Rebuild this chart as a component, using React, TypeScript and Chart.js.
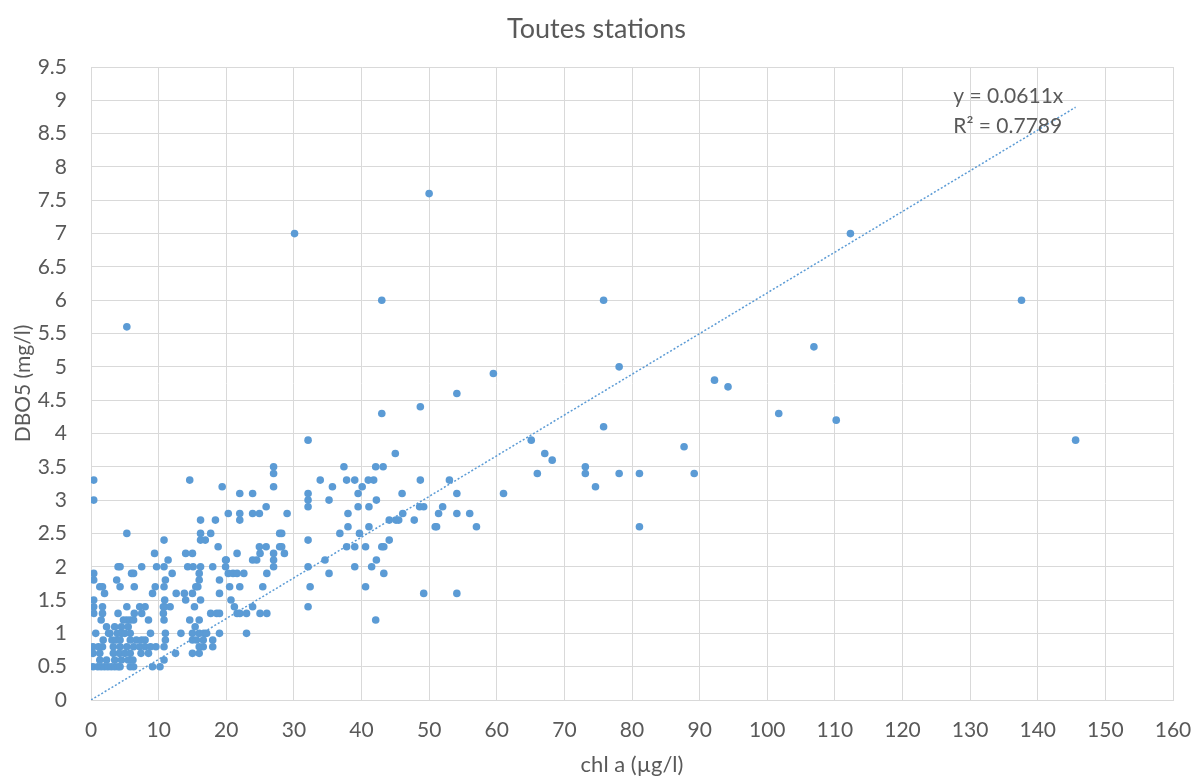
import React, { useEffect, useRef } from "react";
import { Chart, registerables } from "chart.js";

Chart.register(...registerables);

const TITLE = "Toutes stations";
const X_TITLE = "chl a (µg/l)";
const Y_TITLE = "DBO5 (mg/l)";
const EQUATION = "y = 0.0611x";
const R2_TEXT = "R² = 0.7789";
const SLOPE = 0.0611;
const TREND_END_X = 145.6;

const chlA: number[] = [
  0.4, 0.4, 5.3, 14.6, 19.4, 22, 23.9, 27, 27, 27, 25.9, 20.3, 22, 22, 23.9, 24.9, 16.2, 18.4, 16.2, 16.2, 16.9, 17.7, 10.8, 18.8, 24.9, 25.9, 27.9, 27.9,
  9.4, 14, 15, 21.6, 11.4, 20, 24.5, 23.9, 25, 27, 27, 27, 4, 4.3, 7.5, 9.7, 10.8, 14.3, 15.1, 16.2, 18, 19.9, 19.9, 20.3, 21, 21.6, 22.6, 0.4, 0.4,
  6, 6.3, 12, 3.8, 11, 16, 16, 19, 26, 1.3, 1.7, 4.3, 6.4, 9.5, 10.8, 15.5, 15.8, 20.5, 22, 25.4, 2, 9.1, 12.6, 13.8, 15, 19, 10.9, 10.9, 14, 16.2,
  20.7, 0.4, 0.4, 0.4, 1.7, 1.7, 4, 5.3, 7.2, 8, 7.5, 6.4, 10.7, 11.7, 10.7, 15.3, 21.2, 21.6, 22, 23, 23.9, 25, 26, 17.7, 18.6, 19, 1.5, 4.8, 5.3,
  5.8, 6.3, 8.5, 10.8, 14.6, 16, 2.3, 3.5, 4.5, 5.5, 15.4, 0.7, 2.6, 2.8, 3.9, 4.5, 5, 5.8, 6.7, 7.5, 8, 8.8, 11, 13.3, 15, 16, 16.7, 17.1, 19, 23,
  1.8, 3.1, 3.7, 4.3, 5.8, 11, 15, 15.6, 16.6, 18, 0.3, 1.1, 1.7, 3.3, 4.3, 5.3, 6.3, 7.2, 8, 8.8, 9.6, 10.8, 16, 16.6, 18, 0.3, 1.3, 3.3, 4.2, 5,
  5.8, 7.4, 8.5, 10.8, 12.5, 15, 16, 1.3, 2.3, 3.5, 4.5, 5.5, 6.2, 0.3, 1, 1.5, 2, 2.5, 3, 3.5, 4, 4.3, 5.8, 6.3, 9.1, 10.2,
  48.7, 43, 32.1, 45, 37.4, 42.1, 43.2, 33.9, 37.8, 39, 41, 41.8, 48.7, 53, 35.7, 40.1, 39.5, 46, 54.1, 32.1, 32.1, 32.1, 35.2, 42.2, 29, 38, 39.5,
  41.1, 46.1, 48.6, 49.2, 52, 51.4, 54.1, 56, 44.1, 45.1, 45.5, 47.8, 50.9, 51.1, 38, 41.1, 28.2, 36.8, 39.7, 28.2, 32.1, 37.8, 39, 40.6, 43, 43.3,
  44.1, 28.6, 34.6, 32.1, 39, 41.5, 42.2, 35.2, 43.3, 32.4, 40.6, 49.2, 54.1, 32.1, 42.1,
  75.8, 59.5, 78.1, 92.2, 54.1, 75.8, 65.1, 67.1, 68.2, 73.1, 73.1, 66, 78.1, 81.1, 87.7, 89.2, 74.6, 61, 57, 81.1,
  112.3, 137.6, 106.9, 94.2, 101.7, 110.2, 145.6, 50, 30.1, 43, 5.3,
];

const dbo5: number[] = [
  3.3, 3.0, 2.5, 3.3, 3.2, 3.1, 3.1, 3.5, 3.4, 3.2, 2.9, 2.8, 2.8, 2.7, 2.8, 2.8, 2.7, 2.7, 2.5, 2.4, 2.4, 2.5, 2.4, 2.3, 2.3, 2.3, 2.5, 2.3,
  2.2, 2.2, 2.2, 2.2, 2.1, 2.1, 2.1, 2.1, 2.2, 2.2, 2.1, 2.0, 2.0, 2.0, 2.0, 2.0, 2.0, 2.0, 2.0, 2.0, 2.0, 2.1, 2.0, 1.9, 1.9, 1.9, 1.9, 1.9, 1.8,
  1.9, 1.9, 1.9, 1.8, 1.8, 1.9, 1.8, 1.8, 1.9, 1.7, 1.7, 1.7, 1.7, 1.7, 1.7, 1.7, 1.7, 1.7, 1.7, 1.7, 1.6, 1.6, 1.6, 1.6, 1.6, 1.6, 1.5, 1.4, 1.5, 1.5,
  1.5, 1.5, 1.4, 1.3, 1.4, 1.3, 1.3, 1.4, 1.4, 1.4, 1.3, 1.3, 1.4, 1.4, 1.3, 1.4, 1.4, 1.3, 1.3, 1.3, 1.4, 1.3, 1.3, 1.3, 1.3, 1.3, 1.2, 1.2, 1.2,
  1.2, 1.2, 1.2, 1.2, 1.2, 1.2, 1.1, 1.1, 1.1, 1.1, 1.1, 1.0, 1.0, 1.0, 1.0, 1.0, 1.0, 1.0, 0.9, 0.9, 0.9, 1.0, 1.0, 1.0, 1.0, 1.0, 1.0, 1.0, 1.0, 1.0,
  0.9, 0.9, 0.9, 0.9, 0.9, 0.9, 0.9, 0.9, 0.9, 0.9, 0.8, 0.8, 0.8, 0.8, 0.8, 0.8, 0.8, 0.8, 0.8, 0.8, 0.8, 0.8, 0.8, 0.8, 0.8, 0.7, 0.7, 0.7, 0.7, 0.7,
  0.7, 0.7, 0.7, 0.6, 0.7, 0.7, 0.7, 0.6, 0.6, 0.6, 0.6, 0.6, 0.6, 0.5, 0.5, 0.5, 0.5, 0.5, 0.5, 0.5, 0.5, 0.5, 0.5, 0.5, 0.5, 0.5,
  4.4, 4.3, 3.9, 3.7, 3.5, 3.5, 3.5, 3.3, 3.3, 3.3, 3.3, 3.3, 3.3, 3.3, 3.2, 3.2, 3.1, 3.1, 3.1, 3.1, 3.0, 2.9, 3.0, 3.0, 2.8, 2.8, 2.9,
  2.9, 2.8, 2.9, 2.9, 2.9, 2.8, 2.8, 2.8, 2.7, 2.7, 2.7, 2.7, 2.6, 2.6, 2.6, 2.6, 2.5, 2.5, 2.5, 2.3, 2.4, 2.3, 2.3, 2.3, 2.3, 2.3,
  2.4, 2.2, 2.1, 2.0, 2.0, 2.0, 2.1, 1.9, 1.9, 1.7, 1.7, 1.6, 1.6, 1.4, 1.2,
  6.0, 4.9, 5.0, 4.8, 4.6, 4.1, 3.9, 3.7, 3.6, 3.5, 3.4, 3.4, 3.4, 3.4, 3.8, 3.4, 3.2, 3.1, 2.6, 2.6,
  7.0, 6.0, 5.3, 4.7, 4.3, 4.2, 3.9, 7.6, 7.0, 6.0, 5.6,
];

const X_MIN = 0;
const X_MAX = 160;
const X_STEP = 10;
const Y_MIN = 0;
const Y_MAX = 9.5;
const Y_STEP = 0.5;

const BLUE = "#5B9BD5";
const GREY_TEXT = "#595959";
const GRID = "#D9D9D9";
const FONT = "Lato, 'Open Sans', sans-serif";

export default function App() {
  const ref = useRef<HTMLCanvasElement | null>(null);

  useEffect(() => {
    document.body.style.margin = "0";
    const canvas = ref.current;
    if (!canvas) return;

    const points = chlA.map((x, i) => ({ x, y: dbo5[i] }));
    const trend = [
      { x: 0, y: 0 },
      { x: TREND_END_X, y: SLOPE * TREND_END_X },
    ];

    const overlay = {
      id: "overlay",
      afterDraw(chart: any) {
        const { ctx, chartArea, scales, width } = chart;
        ctx.save();
        ctx.fillStyle = GREY_TEXT;
        // chart title
        ctx.textAlign = "center";
        ctx.textBaseline = "alphabetic";
        ctx.font = `27px ${FONT}`;
        ctx.fillText(TITLE, width / 2 - 2, 38);
        // x axis title
        ctx.textBaseline = "middle";
        ctx.font = `22px ${FONT}`;
        ctx.fillText(X_TITLE, (chartArea.left + chartArea.right) / 2, 765);
        // y axis title
        ctx.save();
        ctx.translate(23, (chartArea.top + chartArea.bottom) / 2);
        ctx.rotate(-Math.PI / 2);
        ctx.font = `21px ${FONT}`;
        ctx.fillText(Y_TITLE, 0, 0);
        ctx.restore();
        // trendline label
        ctx.textAlign = "left";
        ctx.textBaseline = "alphabetic";
        ctx.font = `21px ${FONT}`;
        const xs = scales.x.getPixelForValue(127.5);
        ctx.fillText(EQUATION, xs, scales.y.getPixelForValue(8.96));
        ctx.fillText(R2_TEXT, xs, scales.y.getPixelForValue(8.51));
        ctx.restore();
      },
    };

    const chart = new Chart(canvas, {
      type: "scatter",
      data: {
        datasets: [
          {
            label: "DBO5",
            data: points,
            backgroundColor: BLUE,
            borderColor: BLUE,
            pointRadius: 3.8,
            pointBorderWidth: 0,
            pointHoverRadius: 3.8,
            order: 2,
          },
          {
            label: "Trend",
            type: "line",
            data: trend,
            borderColor: BLUE,
            borderWidth: 1.5,
            borderDash: [2, 2],
            pointRadius: 0,
            fill: false,
            order: 1,
          } as any,
        ],
      },
      plugins: [overlay],
      options: {
        animation: false,
        responsive: false,
        maintainAspectRatio: false,
        layout: { padding: { top: 67, right: 24, left: 0, bottom: 0 } },
        plugins: {
          legend: { display: false },
          title: { display: false },
          tooltip: { enabled: false },
        },
        scales: {
          x: {
            type: "linear",
            min: X_MIN,
            max: X_MAX,
            afterFit: (s: any) => {
              s.height = 76;
              s.paddingLeft = 0;
              s.paddingRight = 0;
            },
            ticks: {
              stepSize: X_STEP,
              color: GREY_TEXT,
              font: { family: FONT, size: 21 },
              padding: 18,
              maxRotation: 0,
            },
            grid: { color: GRID, lineWidth: 1, drawTicks: false },
            border: { color: GRID },
          },
          y: {
            type: "linear",
            min: Y_MIN,
            max: Y_MAX,
            afterFit: (s: any) => {
              s.width = 91;
              s.paddingTop = 0;
              s.paddingBottom = 0;
            },
            ticks: {
              stepSize: Y_STEP,
              color: GREY_TEXT,
              font: { family: FONT, size: 21 },
              padding: 24,
              callback: (v: any) => String(Number(v)),
            },
            grid: { color: GRID, lineWidth: 1, drawTicks: false },
            border: { color: GRID },
          },
        },
      },
    });
    return () => chart.destroy();
  }, []);

  return (
    <div style={{ width: 1197, height: 776 }}>
      <canvas ref={ref} width={1197} height={776} style={{ display: "block" }} />
    </div>
  );
}
